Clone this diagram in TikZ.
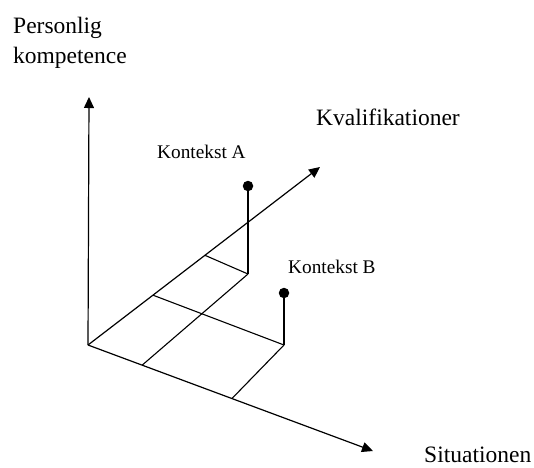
\documentclass[tikz,border=0pt]{standalone}
\usepackage{fontspec}
\setmainfont{Liberation Serif}
\usetikzlibrary{arrows.meta,calc}
\begin{document}
\begin{tikzpicture}[x=1pt,y=-1pt,
  axis/.style={line width=1.2pt,-{Triangle[length=11pt,width=10pt]}},
  grid/.style={line width=1.1pt},
  dotnode/.style={circle,fill=black,inner sep=0pt,minimum size=10.5pt},
  biglabel/.style={anchor=base west,inner sep=0pt,font=\fontsize{23.5}{30}\selectfont},
  smalllabel/.style={anchor=base west,inner sep=0pt,font=\fontsize{19.3}{23}\selectfont}]
\useasboundingbox (0,0) rectangle (534,467);
\coordinate (O) at (88,345);
\coordinate (Ytip) at (89,97);
\coordinate (Ktip) at (320,167);
\coordinate (Stip) at (373,451);
\coordinate (P1) at ($(O)!0.28!(Ktip)$);
\coordinate (P2) at ($(O)!0.504!(Ktip)$);
\coordinate (S1) at ($(O)!0.19!(Stip)$);
\coordinate (S2) at ($(O)!0.505!(Stip)$);
\coordinate (Abase) at (248,274);
\coordinate (Bbase) at (284,345);
\node[dotnode] (dotA) at (248,186) {};
\node[dotnode] (dotB) at (284,293) {};
% axes
\draw[axis] (O) -- (Ytip);
\draw[axis] (O) -- (Ktip);
\draw[axis] (O) -- (Stip);
% grid
\draw[grid] (P2) -- (Abase);
\draw[grid] (P1) -- (Bbase);
\draw[grid] (Abase) -- (S1);
\draw[grid] (Bbase) -- (S2);
\draw[grid] (dotA.center) -- (Abase);
\draw[grid] (dotB.center) -- (Bbase);
% labels
\node[biglabel] (lp1) at (13,33) {Personlig};
\node[biglabel] (lp2) at (13,63) {kompetence};
\node[biglabel] (lk) at (316,125) {Kvalifikationer};
\node[biglabel] (ls) at (424,462) {Situationen};
\node[smalllabel] (la) at (157,158) {Kontekst A};
\node[smalllabel] (lb) at (288,273) {Kontekst B};
\end{tikzpicture}
\end{document}
